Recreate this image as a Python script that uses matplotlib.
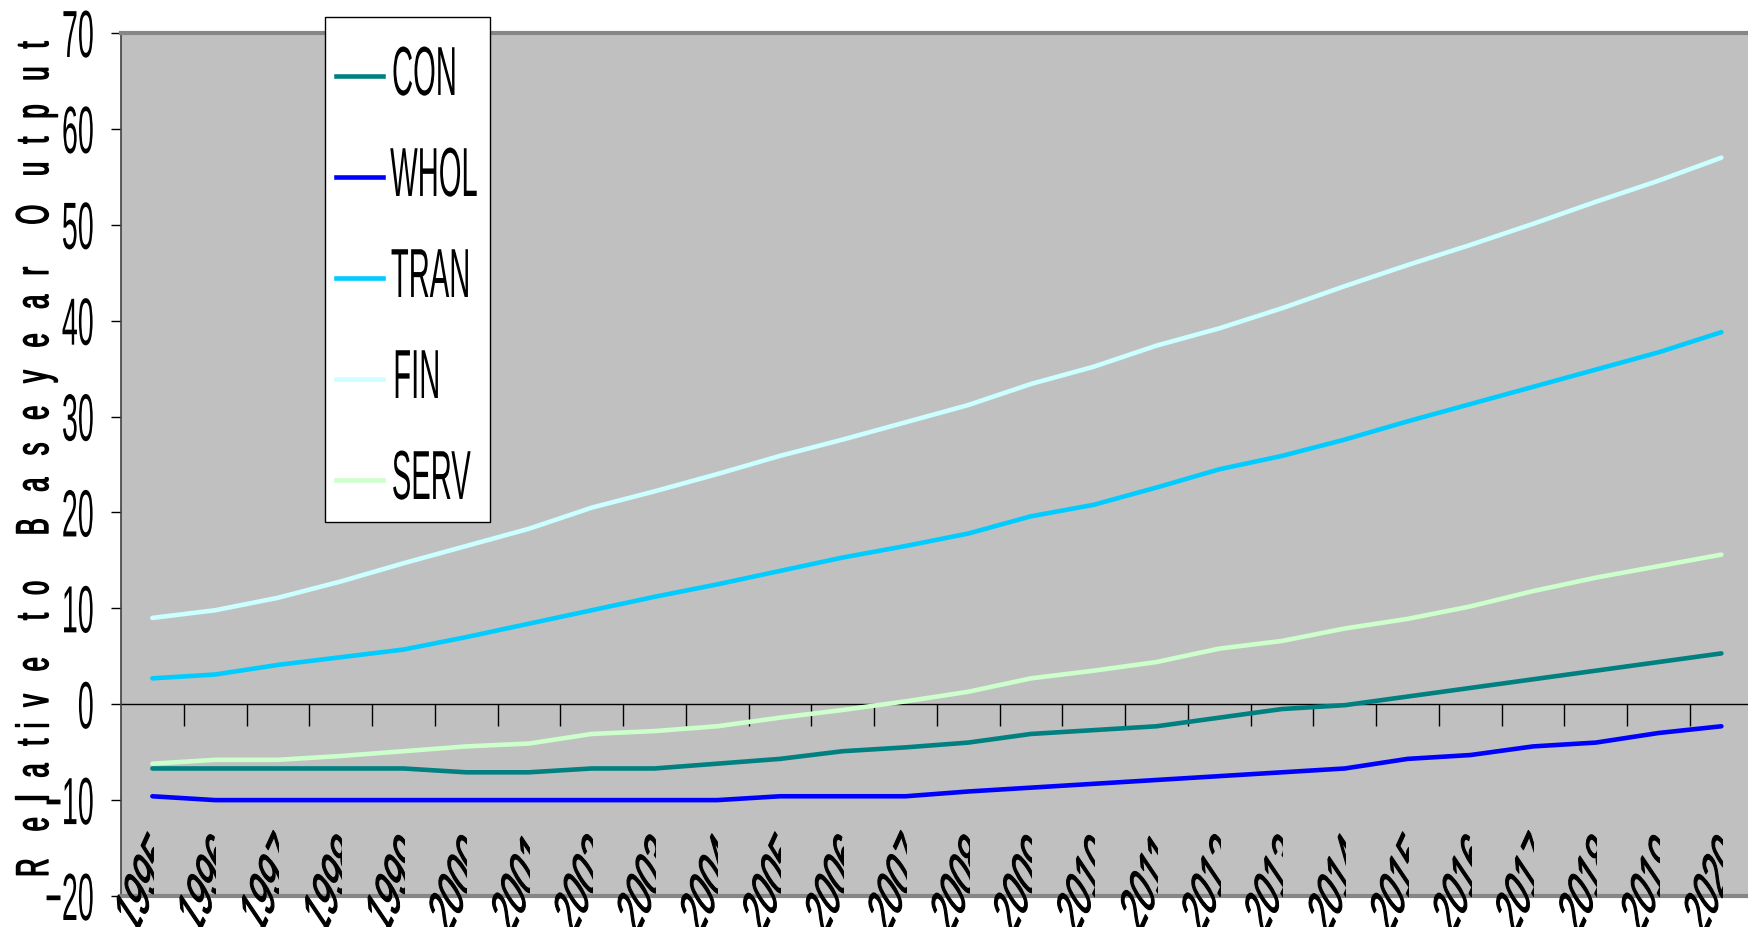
import matplotlib
matplotlib.use('Agg')
import matplotlib.pyplot as plt
import matplotlib.patheffects as patheffects
from matplotlib.transforms import Affine2D, Bbox, TransformedBbox, blended_transform_factory
from matplotlib.patches import Rectangle
from matplotlib.lines import Line2D
import numpy as np

years = [str(y) for y in range(1995, 2021)]

con = [-6.7, -6.7, -6.7, -6.7, -6.7, -7.1, -7.1, -6.7, -6.7, -6.2,
       -5.7, -4.9, -4.5, -4.0, -3.1, -2.7, -2.3, -1.4, -0.5, -0.1,
       0.8, 1.7, 2.6, 3.5, 4.4, 5.3]
whol = [-9.6, -10.0, -10.0, -10.0, -10.0, -10.0, -10.0, -10.0, -10.0, -10.0,
        -9.6, -9.6, -9.6, -9.1, -8.7, -8.3, -7.9, -7.5, -7.1, -6.7,
        -5.7, -5.3, -4.4, -4.0, -3.0, -2.3]
tran = [2.7, 3.1, 4.1, 4.9, 5.7, 7.0, 8.4, 9.8, 11.2, 12.5,
        13.9, 15.3, 16.5, 17.8, 19.6, 20.8, 22.6, 24.5, 25.9, 27.6,
        29.5, 31.3, 33.1, 34.9, 36.7, 38.8]
fin = [9.0, 9.8, 11.1, 12.8, 14.7, 16.5, 18.3, 20.5, 22.2, 24.0,
       25.9, 27.6, 29.4, 31.2, 33.4, 35.2, 37.4, 39.2, 41.3, 43.6,
       45.8, 47.9, 50.1, 52.4, 54.6, 57.0]
serv = [-6.2, -5.8, -5.8, -5.4, -4.9, -4.4, -4.1, -3.1, -2.8, -2.3,
        -1.4, -0.6, 0.3, 1.3, 2.7, 3.5, 4.4, 5.8, 6.6, 7.9,
        8.9, 10.2, 11.8, 13.2, 14.4, 15.6]

names = ['CON', 'WHOL', 'TRAN', 'FIN', 'SERV']
colors = ['#008080', '#0000FF', '#00CCFF', '#CCFFFF', '#CCFFCC']
ylabel = 'Relative to Baseyear Output'

W, H = 1749, 927
FONT = 'Liberation Sans'


class Warp(patheffects.AbstractPathEffect):
    """Apply a linear map (screen space) to drawn glyphs around an anchor,
    optionally outlining them to make the strokes heavier."""

    def __init__(self, matrix, ha='center', va='baseline', lw=0.0):
        super().__init__()
        self.m = np.asarray(matrix, float)
        self.ha, self.va, self.lw = ha, va, lw

    def draw_path(self, renderer, gc, tpath, affine, rgbFace=None):
        ext = tpath.get_extents()
        lx = {'left': ext.x0, 'center': (ext.x0 + ext.x1) / 2,
              'right': ext.x1}[self.ha]
        ly = {'baseline': 0.0, 'center': (ext.y0 + ext.y1) / 2,
              'top': ext.y1}[self.va]
        px, py = affine.transform((lx, ly))
        m = np.eye(3)
        m[:2, :2] = self.m
        warp = Affine2D().translate(-px, -py) + Affine2D(m) + Affine2D().translate(px, py)
        gc0 = renderer.new_gc()
        gc0.copy_properties(gc)
        if self.lw and rgbFace is not None:
            gc0.set_linewidth(self.lw)
            gc0.set_foreground(rgbFace)
        renderer.draw_path(gc0, tpath, affine + warp, rgbFace)
        gc0.restore()


def squeeze(sx, sy, **kw):
    return Warp([[sx, 0], [0, sy]], **kw)


def fig_xy(x, y):
    return x / W, 1 - y / H


fig = plt.figure(figsize=(W / 100, H / 100), dpi=100)
left, top, bottom = 121, 33, 896
ax = fig.add_axes([left / W, (H - bottom) / H, 26 * 62.76 / W, (bottom - top) / H])
ax.set_facecolor('#C0C0C0')

x = np.arange(len(years))
for vals, name, c in zip([con, whol, tran, fin, serv], names, colors):
    ax.plot(x, vals, color=c, linewidth=3.3, label=name,
            solid_capstyle='round', zorder=3)

ax.set_xlim(-0.5, 25.5)
ax.set_ylim(-20, 70)
ax.set_yticks(range(-20, 71, 10))
ax.set_xticks([])

# zero line with category boundary ticks hanging below it
ax.axhline(0, color='black', linewidth=1, zorder=2)
ax.vlines(np.arange(0.5, 25.5, 1), -2.3, 0, color='black', linewidth=1, zorder=2)

for side in ['top', 'bottom']:
    ax.spines[side].set_color('#868686')
    ax.spines[side].set_linewidth(3)
ax.spines['right'].set_visible(False)
ax.spines['left'].set_color('#404040')
ax.spines['left'].set_linewidth(1.2)

ax.tick_params(axis='y', direction='out', length=7, width=1, pad=11.5,
               labelsize=48, colors='black')
for lab in ax.get_yticklabels():
    lab.set_fontfamily(FONT)
    lab.set_path_effects([squeeze(0.43, 1.0, ha='right', va='center')])

# slanted year labels, each cut off at its own category
em = 44.4  # px per em at 32 pt
adv_dir = np.array([16.0, 35.0]) / em
up_dir = np.array([-31.0, 46.0]) / em
year_warp = np.column_stack([adv_dir, up_dir])
trans = blended_transform_factory(ax.transData, fig.transFigure)
for i, yr in enumerate(years):
    t = fig.text(i + 0.13, 1 - 850 / H, yr, transform=trans,
                 ha='right', va='center', fontsize=32, family=FONT,
                 color='black')
    t.set_path_effects([Warp(year_warp, ha='right', va='center', lw=0.8)])
    t.set_clip_box(TransformedBbox(Bbox([[i - 3, 0], [i + 0.02, 1]]), trans))
    t.set_clip_on(True)

# axis title, letter by letter up the left edge
widths = {'R': .722, 'e': .556, 'l': .222, 'a': .556, 't': .278, 'i': .222,
          'v': .5, ' ': .278, 'o': .556, 'B': .667, 's': .5, 'y': .5,
          'r': .333, 'O': .778, 'u': .556, 'p': .556}
adv = np.array([widths[ch] for ch in ylabel])
centers = np.cumsum(adv) - adv / 2
k = (868 - 45) / (centers[-1] - centers[0])
for ch, c in zip(ylabel, centers):
    if ch == ' ':
        continue
    fx, fy = fig_xy(48, 868 - (c - centers[0]) * k)
    t = fig.text(fx, fy, ch, rotation=90, rotation_mode='anchor',
                 ha='center', va='baseline', fontsize=33, family=FONT)
    t.set_path_effects([squeeze(1.0, 0.55, ha='center', va='baseline', lw=1.0)])

# legend box
x0, y0 = fig_xy(325, 522)
x1, y1 = fig_xy(490, 17)
fig.add_artist(Rectangle((x0, y0), x1 - x0, y1 - y0, transform=fig.transFigure,
                         facecolor='white', edgecolor='black', linewidth=1,
                         zorder=4))
for j, (name, c) in enumerate(zip(names, colors)):
    ly = 76 + j * 101
    lx0, lyf = fig_xy(336, ly)
    lx1, _ = fig_xy(383, ly)
    fig.add_artist(Line2D([lx0, lx1], [lyf, lyf], transform=fig.transFigure,
                          color=c, linewidth=3.3, zorder=5))
    tx, ty = fig_xy(390, ly + 19)
    t = fig.text(tx, ty, name, ha='left', va='baseline', fontsize=50,
                 family=FONT, zorder=6)
    t.set_path_effects([squeeze(0.42, 1.0, ha='left', va='baseline')])

fig.savefig('out.png', dpi=100)
